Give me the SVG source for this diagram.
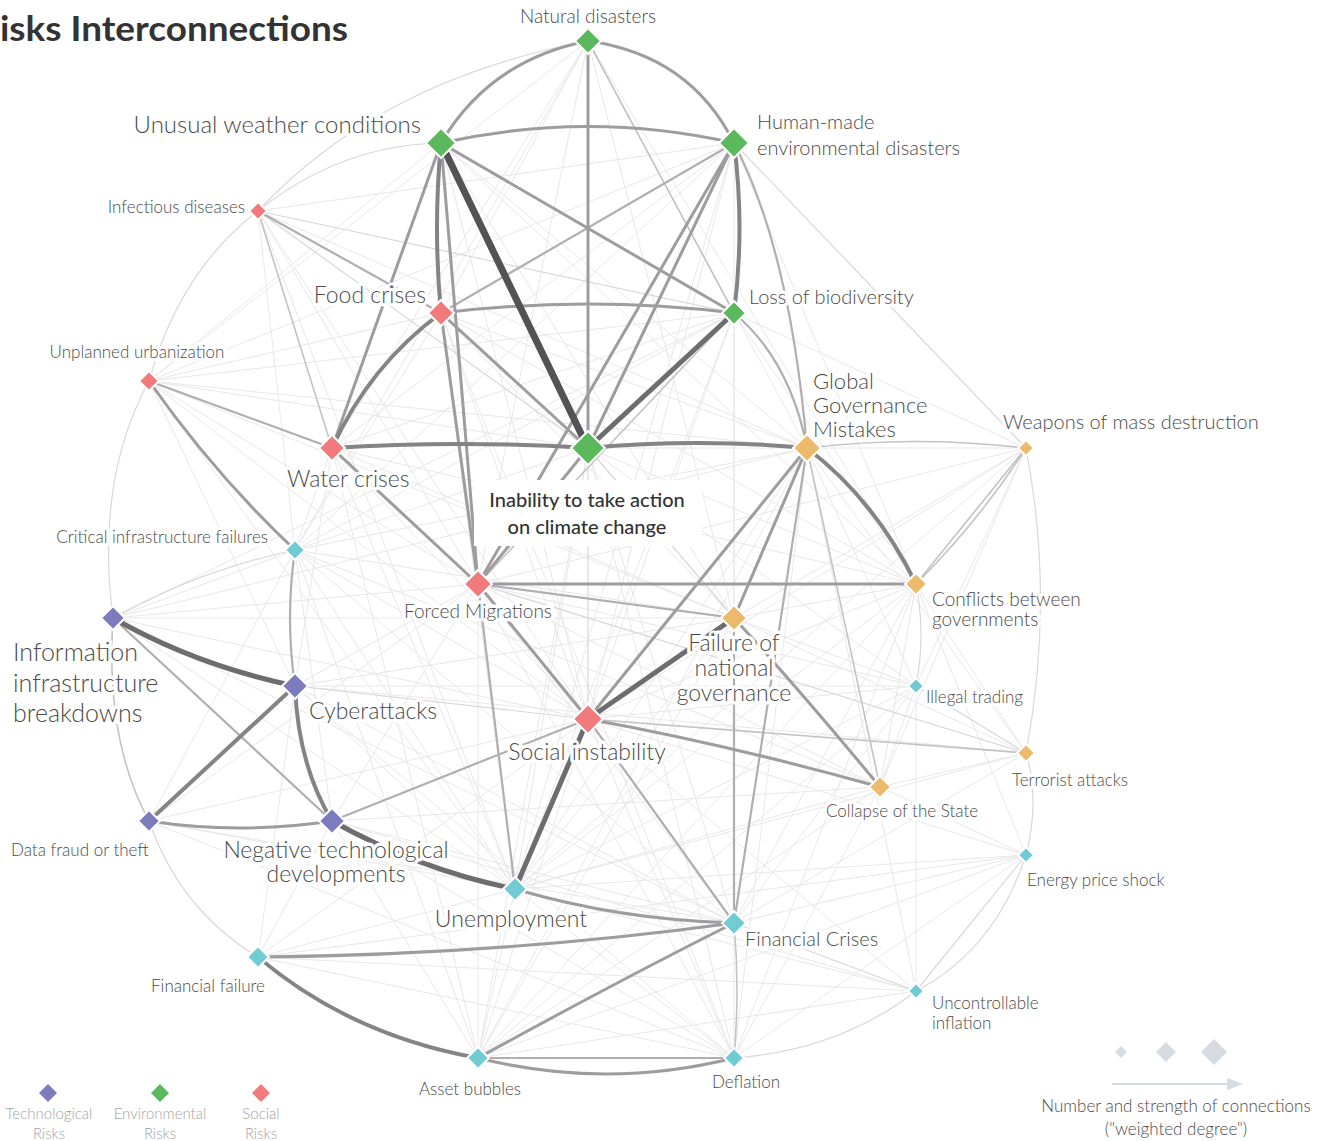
<svg xmlns="http://www.w3.org/2000/svg" width="1333" height="1141" viewBox="0 0 1333 1141">
  <defs>
    <style>
      .lk path { fill: none; stroke-linecap: round; }
      .l0 path { stroke: #e8e8e8; stroke-width: 1; }
      .l1 path { stroke: #d8d8d8; stroke-width: 1.2; }
      .l2 path { stroke: #c4c2c5; stroke-width: 1.6; }
      .m1 path { stroke: #b0aeb1; stroke-width: 2.2; }
      .m2 path { stroke: #9e9c9f; stroke-width: 3; }
      .s1 path { stroke: #858386; stroke-width: 4; }
      .s2 path { stroke: #6e6c6f; stroke-width: 5; }
      .s3 path { stroke: #555256; stroke-width: 7; }
      .dm { stroke: #fff; stroke-width: 2; stroke-linejoin: miter; }
      .env { fill: #5cb85c; }
      .soc { fill: #f27a7d; }
      .geo { fill: #edb96a; }
      .eco { fill: #70ccd2; }
      .tec { fill: #7b7bbd; }
      text { font-family: "Source Sans Pro", Lato, "Noto Sans", "Liberation Sans", sans-serif; font-weight: 300; fill: #4a4a4a; paint-order: stroke; stroke: #fff; stroke-width: 7px; stroke-linejoin: round; }
      .t17 { font-size: 17px; }
      .t19 { font-size: 19px; }
      .t20 { font-size: 20px; }
      .t22 { font-size: 22px; }
      .t23 { font-size: 23px; }
      .t24 { font-size: 24px; }
      .t25 { font-size: 25px; }
      .mid { text-anchor: middle; }
      .end { text-anchor: end; }
      .leg { font-size: 15px; fill: #a3a3a3; text-anchor: middle; stroke: none; }
      .title { font-size: 35px; font-weight: 700; fill: #333; stroke: none; }
      .key { fill: #d6dce1; }
    </style>
    <marker id="arr" viewBox="0 0 10 10" refX="9" refY="5" markerWidth="8" markerHeight="8" orient="auto">
      <path d="M0 1L10 5L0 9Z" fill="#d6dce1"/>
    </marker>
  </defs>

  <rect width="1333" height="1141" fill="#fff"/>

  <text class="title" x="0" y="41" textLength="348" lengthAdjust="spacingAndGlyphs">isks Interconnections</text>

  <!-- connectors, faintest first -->
  <g id="links" class="lk">
    <g class="l0">
      <path d="M588 41L441 313"/><path d="M588 41L332 448"/><path d="M588 41L478 584"/><path d="M588 41L916 584"/><path d="M588 41L734 618"/><path d="M588 41L807 448"/><path d="M588 41L295 550"/><path d="M588 41L149 381"/>
      <path d="M441 143L807 448"/><path d="M441 143L916 584"/><path d="M441 143L588 719"/><path d="M441 143L149 381"/><path d="M441 143L295 550"/><path d="M441 143L734 618"/>
      <path d="M734 143L332 448"/><path d="M734 143L916 584"/><path d="M734 143L588 719"/><path d="M734 143L734 618"/><path d="M734 143L258 211"/><path d="M734 143L295 550"/><path d="M734 143L149 381"/><path d="M734 143L515 889"/>
      <path d="M734 313L332 448"/><path d="M734 313L588 719"/><path d="M734 313L734 618"/><path d="M734 313L149 381"/><path d="M734 313L916 584"/><path d="M734 313L1026 448"/><path d="M734 313L295 550"/><path d="M734 313L113 618"/><path d="M734 313L515 889"/>
      <path d="M588 448L916 584"/><path d="M588 448L149 381"/><path d="M588 448L295 550"/><path d="M588 448L880 787"/><path d="M588 448L1026 448"/><path d="M588 448L734 923"/><path d="M588 448L515 889"/><path d="M588 448L916 686"/><path d="M588 448L734 1058"/><path d="M588 448L478 1058"/>
      <path d="M258 211L478 584"/><path d="M258 211L588 719"/><path d="M258 211L295 550"/><path d="M258 211L807 448"/><path d="M258 211L515 889"/>
      <path d="M441 313L588 719"/><path d="M441 313L807 448"/><path d="M441 313L149 381"/><path d="M441 313L916 584"/><path d="M441 313L734 618"/><path d="M441 313L515 889"/><path d="M441 313L295 550"/><path d="M441 313L734 1058"/>
      <path d="M149 381L478 584"/><path d="M149 381L588 719"/><path d="M149 381L295 686"/><path d="M149 381L734 618"/><path d="M149 381L807 448"/><path d="M149 381L515 889"/>
      <path d="M332 448L588 719"/><path d="M332 448L734 618"/><path d="M332 448L916 584"/><path d="M332 448L515 889"/><path d="M332 448L295 686"/><path d="M332 448L478 1058"/>
      <path d="M478 584L295 686"/><path d="M478 584L113 618"/><path d="M478 584L880 787"/><path d="M478 584L916 686"/><path d="M478 584L734 923"/><path d="M478 584L149 821"/><path d="M478 584L332 821"/><path d="M478 584L1026 448"/><path d="M478 584L734 1058"/><path d="M478 584L478 1058"/>
      <path d="M588 719L113 618"/><path d="M588 719L295 550"/><path d="M588 719L916 686"/><path d="M588 719L478 1058"/><path d="M588 719L734 1058"/><path d="M588 719L916 991"/><path d="M588 719L1026 855"/><path d="M588 719L258 957"/><path d="M588 719L916 584"/><path d="M588 719L1026 448"/><path d="M588 719L149 821"/>
      <path d="M807 448L1026 753"/><path d="M807 448L916 686"/><path d="M807 448L916 991"/><path d="M807 448L515 889"/><path d="M807 448L295 550"/><path d="M807 448L113 618"/><path d="M807 448L478 1058"/><path d="M807 448L734 1058"/>
      <path d="M1026 448L734 618"/><path d="M1026 448L916 686"/><path d="M1026 448L880 787"/><path d="M1026 448L515 889"/>
      <path d="M916 584L734 618"/><path d="M916 584L1026 753"/><path d="M916 584L880 787"/><path d="M916 584L734 923"/><path d="M916 584L1026 855"/><path d="M916 584L515 889"/><path d="M916 584L734 1058"/><path d="M916 584L478 1058"/>
      <path d="M734 618L1026 753"/><path d="M734 618L916 686"/><path d="M734 618L515 889"/><path d="M734 618L734 1058"/><path d="M734 618L478 1058"/><path d="M734 618L295 686"/>
      <path d="M1026 753L916 686"/><path d="M1026 753L880 787"/><path d="M1026 753L295 686"/><path d="M1026 753L734 923"/><path d="M1026 753L515 889"/>
      <path d="M880 787L916 686"/><path d="M880 787L1026 855"/><path d="M880 787L515 889"/><path d="M880 787L478 1058"/><path d="M880 787L295 550"/><path d="M880 787L734 1058"/>
      <path d="M295 550L113 618"/><path d="M295 550L332 821"/><path d="M295 550L734 923"/><path d="M295 550L734 618"/><path d="M295 550L149 821"/><path d="M295 550L515 889"/><path d="M295 550L478 1058"/>
      <path d="M916 686L734 923"/><path d="M916 686L916 991"/><path d="M916 686L515 889"/><path d="M916 686L478 1058"/>
      <path d="M1026 855L734 923"/><path d="M1026 855L734 1058"/><path d="M1026 855L478 1058"/><path d="M1026 855L515 889"/><path d="M1026 855L258 957"/>
      <path d="M515 889L734 1058"/><path d="M515 889L478 1058"/><path d="M515 889L258 957"/><path d="M515 889L295 686"/><path d="M515 889L916 991"/>
      <path d="M734 923L332 821"/><path d="M734 923L295 686"/><path d="M734 923L113 618"/>
      <path d="M258 957L734 1058"/><path d="M258 957L332 821"/><path d="M258 957L295 686"/><path d="M258 957L916 991"/>
      <path d="M916 991L478 1058"/><path d="M916 991L332 821"/><path d="M478 1058L332 821"/>
      <path d="M113 618L734 618"/><path d="M113 618L515 889"/>
      <path d="M295 686L916 686"/><path d="M295 686L734 1058"/><path d="M149 821L515 889"/><path d="M149 821L734 923"/><path d="M149 821L734 1058"/><path d="M332 821L734 1058"/><path d="M332 821L880 787"/>
    </g>
    <g class="l1">
      <path d="M258 211Q340 145 441 143"/>
      <path d="M258 211Q380 80 588 41"/>
      <path d="M258 211Q180 270 149 381"/>
      <path d="M149 381Q95 480 113 618"/>
      <path d="M149 821Q180 910 258 957"/>
      <path d="M1026 448Q1055 600 1026 753"/>
      <path d="M1026 753Q1040 800 1026 855"/>
      <path d="M1026 855Q995 950 916 991"/>
      <path d="M916 991Q840 1050 734 1058"/>
      <path d="M734 143L1026 448"/>
      <path d="M734 313L258 211"/>
      <path d="M258 211L588 448"/>
      <path d="M295 686L588 719"/>
      <path d="M916 584Q926 635 916 686"/>
      <path d="M734 923L916 991"/>
      <path d="M113 618Q200 570 295 550"/>
      <path d="M916 686L1026 753"/>
      <path d="M916 991L1026 855"/>
      <path d="M478 584L1026 753"/>
      <path d="M588 448L734 618"/>
      <path d="M588 448L588 719"/>
    </g>
    <g class="l2">
      <path d="M113 618Q105 740 149 821"/>
      <path d="M807 448Q915 435 1026 448"/>
      <path d="M258 211L332 448"/>
      <path d="M588 41L734 313"/>
      <path d="M734 313L478 584"/>
      <path d="M588 719L1026 753"/>
      <path d="M807 448L880 787"/>
      <path d="M916 584Q980 520 1026 448"/>
      <path d="M734 923Q740 990 734 1058"/>
      <path d="M1026 448L916 584"/>
    </g>
    <g class="m1">
      <path d="M734 143Q790 250 807 448"/>
      <path d="M734 313Q790 360 807 448"/>
      <path d="M258 211L441 313"/>
      <path d="M149 381L332 448"/>
      <path d="M295 550Q285 618 295 686"/>
      <path d="M113 618L332 821"/>
      <path d="M807 448L734 923"/>
      <path d="M734 618L734 923"/>
      <path d="M588 719L734 923"/>
      <path d="M478 584L515 889"/>
      <path d="M478 584L734 618"/>
      <path d="M734 143L441 313"/>
      <path d="M332 821L588 719"/>
      <path d="M478 1058L734 1058"/>
    </g>
    <g class="m2">
      <path d="M588 41Q490 60 441 143"/>
      <path d="M588 41Q690 55 734 143"/>
      <path d="M441 143Q588 110 734 143"/>
      <path d="M588 41L588 448"/>
      <path d="M441 143L332 448"/>
      <path d="M441 143L478 584"/>
      <path d="M441 143L734 313"/>
      <path d="M734 143L478 584"/>
      <path d="M734 143L588 448"/>
      <path d="M441 313Q588 295 734 313"/>
      <path d="M441 313L588 448"/>
      <path d="M441 313L478 584"/>
      <path d="M332 448L478 584"/>
      <path d="M478 584L588 448"/>
      <path d="M478 584L588 719"/>
      <path d="M478 584L916 584"/>
      <path d="M807 448L588 719"/>
      <path d="M807 448L734 618"/>
      <path d="M588 719Q730 745 880 787"/>
      <path d="M734 618Q800 690 880 787"/>
      <path d="M149 381Q215 475 295 550"/>
      <path d="M149 821Q240 835 332 821"/>
      <path d="M515 889Q620 920 734 923"/>
      <path d="M258 957Q500 955 734 923"/>
      <path d="M478 1058Q620 980 734 923"/>
      <path d="M478 1058Q606 1090 734 1058"/>
    </g>
    <g class="s1">
      <path d="M441 143Q433 228 441 313"/>
      <path d="M734 143Q745 228 734 313"/>
      <path d="M332 448Q460 440 588 448"/>
      <path d="M588 448Q697 438 807 448"/>
      <path d="M441 313Q370 365 332 448"/>
      <path d="M807 448Q875 500 916 584"/>
      <path d="M295 686L149 821"/>
      <path d="M295 686Q298 765 332 821"/>
      <path d="M258 957Q350 1035 478 1058"/>
    </g>
    <g class="s2">
      <path d="M734 313L588 448"/>
      <path d="M588 719L734 618"/>
      <path d="M588 719L515 889"/>
      <path d="M113 618Q195 665 295 686"/>
      <path d="M332 821Q420 870 515 889"/>
    </g>
    <g class="s3">
      <path d="M441 143L588 448"/>
    </g>
  </g>

  <!-- environmental risks -->
  <g id="natural-disasters">
    <polygon class="dm env" points="588,28 601,41 588,54 575,41"/>
    <text class="t19 mid" x="588" y="23">Natural disasters</text>
  </g>
  <g id="unusual-weather-conditions">
    <polygon class="dm env" points="441,128 456,143 441,158 426,143"/>
    <text class="t24 end" x="421" y="133">Unusual weather conditions</text>
  </g>
  <g id="human-made-environmental-disasters">
    <polygon class="dm env" points="734,128 749,143 734,158 719,143"/>
    <text class="t20" x="757" y="129">Human-made</text>
    <text class="t20" x="757" y="155">environmental disasters</text>
  </g>
  <g id="loss-of-biodiversity">
    <polygon class="dm env" points="734,301 746,313 734,325 722,313"/>
    <text class="t20" x="749" y="304">Loss of biodiversity</text>
  </g>
  <g id="inability-climate-action">
    <rect x="474" y="480" width="228" height="66" fill="#fff"/>
    <polygon class="dm env" points="588,431 605,448 588,465 571,448"/>
    <text class="t20 mid" x="587" y="507" style="font-weight:500;fill:#333">Inability to take action</text>
    <text class="t20 mid" x="587" y="534" style="font-weight:500;fill:#333">on climate change</text>
  </g>

  <!-- social risks -->
  <g id="infectious-diseases">
    <polygon class="dm soc" points="258,202 267,211 258,220 249,211"/>
    <text class="t17 end" x="245" y="213">Infectious diseases</text>
  </g>
  <g id="food-crises">
    <polygon class="dm soc" points="441,300 454,313 441,326 428,313"/>
    <text class="t23 end" x="426" y="303">Food crises</text>
  </g>
  <g id="unplanned-urbanization">
    <polygon class="dm soc" points="149,371 159,381 149,391 139,381"/>
    <text class="t17 mid" x="137" y="358">Unplanned urbanization</text>
  </g>
  <g id="water-crises">
    <polygon class="dm soc" points="332,435 345,448 332,461 319,448"/>
    <text class="t23" x="287" y="487">Water crises</text>
  </g>
  <g id="forced-migrations">
    <polygon class="dm soc" points="478,570 492,584 478,598 464,584"/>
    <text class="t19 mid" x="478" y="618">Forced Migrations</text>
  </g>
  <g id="social-instability">
    <polygon class="dm soc" points="588,704 603,719 588,734 573,719"/>
    <text class="t23 mid" x="587" y="760">Social instability</text>
  </g>

  <!-- geopolitical risks -->
  <g id="global-governance-mistakes">
    <polygon class="dm geo" points="807,434 821,448 807,462 793,448"/>
    <text class="t22" x="813" y="389">Global</text>
    <text class="t22" x="813" y="413">Governance</text>
    <text class="t22" x="813" y="437">Mistakes</text>
  </g>
  <g id="weapons-of-mass-destruction">
    <polygon class="dm geo" points="1026,440 1034,448 1026,456 1018,448"/>
    <text class="t20" x="1003" y="429">Weapons of mass destruction</text>
  </g>
  <g id="conflicts-between-governments">
    <polygon class="dm geo" points="916,573 927,584 916,595 905,584"/>
    <text class="t19" x="932" y="606">Conflicts between</text>
    <text class="t19" x="932" y="626">governments</text>
  </g>
  <g id="failure-of-national-governance">
    <polygon class="dm geo" points="734,605 747,618 734,631 721,618"/>
    <text class="t23 mid" x="734" y="651">Failure of</text>
    <text class="t23 mid" x="734" y="676">national</text>
    <text class="t23 mid" x="734" y="701">governance</text>
  </g>
  <g id="terrorist-attacks">
    <polygon class="dm geo" points="1026,744 1035,753 1026,762 1017,753"/>
    <text class="t17" x="1012" y="786">Terrorist attacks</text>
  </g>
  <g id="collapse-of-the-state">
    <polygon class="dm geo" points="880,776 891,787 880,798 869,787"/>
    <text class="t17" x="826" y="817">Collapse of the State</text>
  </g>

  <!-- economic risks -->
  <g id="critical-infrastructure-failures">
    <polygon class="dm eco" points="295,540 305,550 295,560 285,550"/>
    <text class="t17 end" x="268" y="543">Critical infrastructure failures</text>
  </g>
  <g id="illegal-trading">
    <polygon class="dm eco" points="916,678 924,686 916,694 908,686"/>
    <text class="t17" x="926" y="703">Illegal trading</text>
  </g>
  <g id="energy-price-shock">
    <polygon class="dm eco" points="1026,847 1034,855 1026,863 1018,855"/>
    <text class="t17" x="1027" y="886">Energy price shock</text>
  </g>
  <g id="unemployment">
    <polygon class="dm eco" points="515,877 527,889 515,901 503,889"/>
    <text class="t23 mid" x="511" y="927">Unemployment</text>
  </g>
  <g id="financial-crises">
    <polygon class="dm eco" points="734,911 746,923 734,935 722,923"/>
    <text class="t20" x="745" y="946">Financial Crises</text>
  </g>
  <g id="financial-failure">
    <polygon class="dm eco" points="258,946 269,957 258,968 247,957"/>
    <text class="t17 mid" x="208" y="992">Financial failure</text>
  </g>
  <g id="uncontrollable-inflation">
    <polygon class="dm eco" points="916,983 924,991 916,999 908,991"/>
    <text class="t17" x="932" y="1009">Uncontrollable</text>
    <text class="t17" x="932" y="1029">inflation</text>
  </g>
  <g id="asset-bubbles">
    <polygon class="dm eco" points="478,1047 489,1058 478,1069 467,1058"/>
    <text class="t17 mid" x="470" y="1095">Asset bubbles</text>
  </g>
  <g id="deflation">
    <polygon class="dm eco" points="734,1048 744,1058 734,1068 724,1058"/>
    <text class="t17 mid" x="746" y="1088">Deflation</text>
  </g>

  <!-- technological risks -->
  <g id="information-infrastructure-breakdowns">
    <polygon class="dm tec" points="113,606 125,618 113,630 101,618"/>
    <text class="t25" x="13" y="661">Information</text>
    <text class="t25" x="13" y="692">infrastructure</text>
    <text class="t25" x="13" y="722">breakdowns</text>
  </g>
  <g id="cyberattacks">
    <polygon class="dm tec" points="295,673 308,686 295,699 282,686"/>
    <text class="t23" x="309" y="719">Cyberattacks</text>
  </g>
  <g id="data-fraud-or-theft">
    <polygon class="dm tec" points="149,810 160,821 149,832 138,821"/>
    <text class="t17" x="11" y="856">Data fraud or theft</text>
  </g>
  <g id="negative-technological-developments">
    <polygon class="dm tec" points="332,808 345,821 332,834 319,821"/>
    <text class="t23 mid" x="336" y="858">Negative technological</text>
    <text class="t23 mid" x="336" y="882">developments</text>
  </g>

  <!-- category key -->
  <g id="legend-categories">
    <polygon class="tec" points="48,1084 57,1093 48,1102 39,1093"/>
    <text class="leg" x="49" y="1119">Technological</text>
    <text class="leg" x="49" y="1139">Risks</text>
    <polygon class="env" points="160,1084 169,1093 160,1102 151,1093"/>
    <text class="leg" x="160" y="1119">Environmental</text>
    <text class="leg" x="160" y="1139">Risks</text>
    <polygon class="soc" points="261,1084 270,1093 261,1102 252,1093"/>
    <text class="leg" x="261" y="1119">Social</text>
    <text class="leg" x="261" y="1139">Risks</text>
  </g>

  <!-- size key -->
  <g id="legend-size">
    <polygon class="key" points="1121,1046 1127,1052 1121,1058 1115,1052"/>
    <polygon class="key" points="1166,1042 1176,1052 1166,1062 1156,1052"/>
    <polygon class="key" points="1214,1039 1227,1052 1214,1065 1201,1052"/>
    <line x1="1112" y1="1084" x2="1241" y2="1084" stroke="#d6dce1" stroke-width="2" marker-end="url(#arr)"/>
    <text class="t17 mid" x="1176" y="1112" style="stroke:none">Number and strength of connections</text>
    <text class="t17 mid" x="1176" y="1135" style="stroke:none">("weighted degree")</text>
  </g>
</svg>
